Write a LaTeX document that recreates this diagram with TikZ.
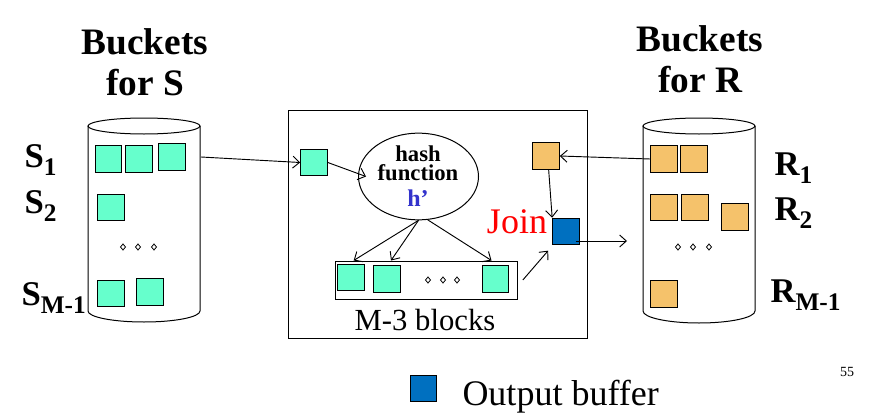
\documentclass[tikz,border=0pt]{standalone}
\usepackage{fontspec}
\setmainfont{Liberation Serif}
\usetikzlibrary{shapes.geometric, arrows.meta}
\definecolor{sgreen}{HTML}{66FFCC}
\definecolor{rorange}{HTML}{F5C26B}
\definecolor{obuf}{HTML}{0070C0}
\definecolor{hblue}{HTML}{3333CC}
\newcommand\bsub[2]{#1\raisebox{-6pt}{\fontsize{19}{19}\selectfont #2}}
\tikzset{
  sbox/.style = {draw, fill=sgreen, minimum size=20pt, inner sep=0pt},
  rbox/.style = {draw, fill=rorange, minimum size=20pt, inner sep=0pt},
  obox/.style = {draw, fill=obuf, minimum size=20pt, inner sep=0pt},
  arr/.style = {-{Straight Barb[length=5pt, width=9pt]}, line width=.7pt},
  biglabel/.style = {font=\fontsize{26}{30}\selectfont\bfseries, inner sep=0pt},
}
\begin{document}
\begin{tikzpicture}[x = .75pt, y = -.75pt, line width = .75pt]
      \useasboundingbox (0,0) rectangle (875,418);
      \node [biglabel, font = \fontsize{28}{31}\selectfont\bfseries, align = center] (bucketss) at (145,62) {Buckets\\for S};
      \node [biglabel, font = \fontsize{28}{31}\selectfont\bfseries, align = center] (bucketsr) at (700,59) {Buckets\\for R};
      \draw (88,126) -- (88,311) arc [start angle = 180, end angle = 0, x radius = 56, y radius = 11] -- (200,126);
      \draw (144,126) ellipse [x radius = 56, y radius = 8];
      \draw (643,126) -- (643,311) arc [start angle = 180, end angle = 0, x radius = 56, y radius = 12] -- (755,126);
      \draw (699,126) ellipse [x radius = 56, y radius = 8];
      \node [sbox] (s1a) at (108.5,159) {};
      \node [sbox] (s1b) at (139,159) {};
      \node [sbox] (s1c) at (172,157) {};
      \node [sbox] (s2a) at (111,207.5) {};
      \node [sbox] (sm1a) at (111,293.5) {};
      \node [sbox] (sm1b) at (150,292) {};
      \foreach \x in {123,138,154} \draw [line width = .6pt] (\x,244) -- ++(2.5,3) -- ++(-2.5,3) -- ++(-2.5,-3) -- cycle;
      \node [biglabel, anchor = base west] (slab1) at (24,167) {\bsub{S}{1}};
      \node [biglabel, anchor = base west] (slab2) at (24,213) {\bsub{S}{2}};
      \node [biglabel, anchor = base west] (slabm) at (21,305) {\bsub{S}{M-1}};
      \node [rbox] (r1a) at (664,159) {};
      \node [rbox] (r1b) at (694,159) {};
      \node [rbox] (r2a) at (664,207.5) {};
      \node [rbox] (r2b) at (695,207.5) {};
      \node [rbox] (r2c) at (735,217) {};
      \node [rbox] (rm1a) at (664,294) {};
      \foreach \x in {678,693,709} \draw [line width = .6pt] (\x,244) -- ++(2.5,3) -- ++(-2.5,3) -- ++(-2.5,-3) -- cycle;
      \node [biglabel, anchor = base west] (rlab1) at (774,175) {\bsub{R}{1}};
      \node [biglabel, anchor = base west] (rlab2) at (774,220) {\bsub{R}{2}};
      \node [biglabel, anchor = base west] (rlabm) at (770,302) {\bsub{R}{M-1}};
      \draw (288,110) rectangle (587,338);
      \node [sbox] (gin) at (314,162.5) {};
      \node [ellipse, draw, minimum width = 90pt, minimum height = 65pt] (hashfn) at (418.5,176.5) {};
      \node [font = \fontsize{17}{17}\selectfont\bfseries, anchor = base, inner sep = 0pt] (hashtxt) at (418,161) {hash};
      \node [font = \fontsize{17}{17}\selectfont\bfseries, anchor = base, inner sep = 0pt] (fntxt) at (418,180) {function};
      \node [text = hblue, font = \fontsize{18}{18}\selectfont\bfseries, inner sep = 0pt] (hprime) at (418,198) {h’};
      \node [rbox] (oin) at (546,156) {};
      \node [obox] (outbuf) at (566,231.5) {};
      \node [text = red, font = \fontsize{27}{27}\selectfont, inner sep = 0pt] (join) at (517,222) {Join};
      \node [draw, minimum width = 136.5pt, minimum height = 28.5pt, inner sep = 0pt] (blocks) at (426,280) {};
      \node [sbox] (b1) at (351,277.5) {};
      \node [sbox] (b2) at (387,279) {};
      \node [sbox] (b3) at (495.5,279) {};
      \foreach \x in {428,443,457} \draw [line width = .6pt] (\x,277) -- ++(2.5,3) -- ++(-2.5,3) -- ++(-2.5,-3) -- cycle;
      \node [font = \fontsize{23}{23}\selectfont, inner sep = 0pt] (blockslab) at (425,320) {M-3 blocks};
      \coordinate (sout) at (201,157);
      \coordinate (rin) at (627,241);
      \draw [arr] (sout) -- (gin.west);
      \draw [arr] (gin.east) -- ([xshift = 6pt]hashfn.west);
      \draw [arr] (hashfn.south) -- ([xshift = 2pt]b1.north |- blocks.north);
      \draw [arr] (hashfn.south) -- ([xshift = 3pt]b2.north |- blocks.north);
      \draw [arr] (hashfn.-78) -- ([xshift = -3pt]b3.north |- blocks.north);
      \draw [arr] ([xshift = 4pt]blocks.east) -- ([xshift = -3pt, yshift = -4pt]outbuf.south west);
      \draw [arr] ([xshift = 2pt]oin.south) -- (outbuf.north west);
      \draw [arr] (r1a.west) -- (oin.east);
      \draw [arr] ([xshift = -3pt]outbuf.east |- rin) -- (rin);
      \node [obox] (legbox) at (423.5,388.5) {};
      \node [anchor = west, font = \fontsize{27}{27}\selectfont, inner sep = 0pt] (legtxt) at (462,397) {Output buffer};
      \node [font = \fontsize{10.5}{10.5}\selectfont, inner sep = 0pt] (pagenum) at (847,372) {55};
    \end{tikzpicture}
\end{document}
